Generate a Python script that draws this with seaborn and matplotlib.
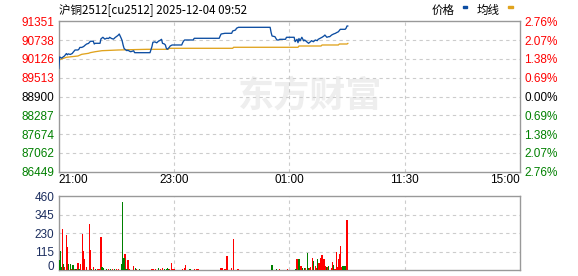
import numpy as np
import pandas as pd
import matplotlib
matplotlib.use("Agg")
import matplotlib.pyplot as plt
import seaborn as sns

sns.set_theme(style="white")
plt.rcParams["font.family"] = ["Noto Sans CJK SC", "DejaVu Sans"]

# ---------------- data ----------------
title = "沪铜2512[cu2512] 2025-12-04 09:52"
base_price = 88900
price_ticks = [86449, 87061.75, 87674.5, 88287.25, 88900, 89512.75, 90125.5, 90738.25, 91351]
price_labels = ["86449", "87062", "87674", "88287", "88900", "89513", "90126", "90738", "91351"]
pct_labels = ["2.76%", "2.07%", "1.38%", "0.69%", "0.00%", "0.69%", "1.38%", "2.07%", "2.76%"]
time_ticks = [0, 120, 240, 360, 480]
time_labels = ["21:00", "23:00", "01:00", "11:30", "15:00"]
vol_ticks = [0, 115, 230, 345, 460]

price_idx = [0, 1, 3, 4, 6, 8, 9, 10, 12, 14, 15, 17, 20, 21, 22, 24, 26, 27, 29, 31, 33, 36, 37, 38,
             43, 44, 46, 48, 50, 52, 53, 55, 57, 59, 60, 62, 63, 65, 66, 67, 68, 69, 71, 72, 74, 75,
             78, 79, 95, 97, 98, 100, 102, 104, 105, 107, 108, 110, 111, 112, 113, 115, 116, 118,
             128, 129, 130, 131, 140, 141, 167, 168, 169, 173, 180, 181, 184, 185, 187, 220, 221,
             222, 225, 227, 229, 230, 236, 237, 245, 246, 248, 249, 250, 251, 253, 255, 256, 258,
             260, 262, 263, 265, 267, 269, 270, 272, 274, 276, 277, 279, 281, 282, 284, 286, 288,
             289, 291, 293, 298, 299, 300, 301]
price_val = [89800, 90190, 90150, 90175, 90220, 90300, 90260, 90290, 90270, 90300, 90340, 90416,
             90416, 90440, 90500, 90500, 90530, 90560, 90610, 90630, 90700, 90700, 90611, 90634,
             90634, 90780, 90830, 90770, 90800, 90790, 90830, 90790, 90770, 90830, 90850, 90900,
             90937, 90800, 90720, 90580, 90470, 90438, 90393, 90410, 90370, 90360, 90390, 90328,
             90328, 90523, 90667, 90680, 90650, 90709, 90720, 90764, 90634, 90611, 90579, 90471,
             90438, 90500, 90546, 90579, 90579, 90654, 90709, 90742, 90742, 90797, 90797, 90872,
             90937, 90960, 90960, 91035, 91067, 91123, 91155, 91155, 90990, 90872, 90850, 90742,
             90742, 90764, 90764, 90830, 90830, 90686, 90764, 90654, 90790, 90710, 90830, 90710,
             90742, 90686, 90634, 90686, 90720, 90686, 90742, 90720, 90764, 90797, 90830, 90872,
             90904, 90830, 90850, 90850, 90904, 90937, 90960, 90980, 91010, 91090, 91090, 91123,
             91198, 91198]

avg_idx = [0, 3, 8, 20, 24, 31, 33, 38, 45, 62, 92, 114, 115, 181, 182, 249, 250, 273, 274, 291, 292, 300, 301]
avg_val = [90090, 90122, 90178, 90220, 90275, 90308, 90330, 90360, 90393, 90416, 90438, 90438, 90471,
           90471, 90504, 90504, 90546, 90546, 90579, 90579, 90611, 90611, 90634]

vol_idx = [0, 1, 2, 3, 4, 5, 6, 8, 9, 10, 12, 13, 15, 17, 18, 20, 21, 23, 25, 26, 27, 29, 32, 33, 34,
           36, 38, 40, 42, 44, 45, 46, 47, 50, 52, 54, 56, 58, 60, 62, 65, 66, 67, 68, 69, 70, 71, 72,
           74, 78, 80, 81, 84, 97, 98, 101, 104, 106, 108, 110, 112, 113, 114, 115, 117, 118, 120,
           129, 131, 132, 136, 137, 141, 143, 145, 169, 170, 173, 175, 180, 182, 186, 187, 222, 227,
           230, 238, 247, 248, 249, 250, 252, 253, 254, 256, 257, 259, 260, 261, 262, 264, 265, 267,
           268, 269, 270, 271, 272, 273, 274, 276, 277, 279, 280, 281, 284, 285, 286, 287, 288, 289,
           290, 291, 292, 293, 294, 295, 296, 298, 299, 300]
vol_val = [319, 64, 120, 23, 257, 39, 23, 220, 145, 39, 39, 8, 33, 8, 6, 44, 6, 39, 226, 120, 70, 21,
           288, 126, 8, 21, 8, 8, 8, 207, 21, 12, 8, 8, 8, 8, 8, 8, 8, 8, 39, 425, 58, 79, 100, 8, 8,
           64, 8, 27, 15, 10, 8, 8, 8, 8, 12, 8, 15, 8, 10, 12, 8, 8, 46, 8, 8, 8, 17, 33, 8, 8, 8, 8,
           8, 12, 17, 8, 89, 17, 197, 8, 8, 33, 8, 8, 8, 8, 70, 39, 70, 27, 21, 12, 15, 12, 108, 15,
           12, 21, 77, 58, 27, 15, 70, 44, 27, 46, 77, 95, 70, 27, 21, 21, 27, 12, 52, 35, 8, 8, 114,
           21, 70, 101, 151, 21, 27, 27, 27, 8, 313]
vol_dir = ["r", "g", "g", "g", "r", "g", "r", "r", "r", "g", "g", "r", "g", "r", "g", "r", "g", "r",
           "r", "r", "r", "r", "r", "r", "g", "r", "g", "r", "r", "r", "g", "g", "r", "g", "r", "g",
           "r", "g", "r", "r", "g", "g", "g", "g", "r", "g", "g", "r", "r", "r", "g", "r", "g", "r",
           "r", "r", "g", "r", "r", "g", "g", "g", "g", "r", "r", "r", "r", "r", "r", "r", "g", "g",
           "r", "r", "r", "r", "r", "r", "r", "r", "r", "r", "r", "g", "g", "r", "r", "g", "r", "r",
           "g", "r", "r", "g", "g", "r", "g", "g", "r", "r", "r", "g", "r", "r", "g", "r", "r", "r",
           "r", "r", "r", "r", "g", "r", "g", "r", "r", "g", "r", "r", "r", "r", "r", "r", "r", "r",
           "g", "g", "g", "r", "r"]

# ---------------- styling ----------------
RED = "#ff0000"
GREEN = "#008000"
BLUE = "#0c4da2"
GOLD = "#e0a31e"
GRID = "#cccccc"
SPINE = "#999999"
NUMFONT = "Liberation Sans"
FS = 8.5

W, H = 578, 276
fig = plt.figure(figsize=(W / 100, H / 100), dpi=100)
fig.patch.set_facecolor("white")
L, R = 58.7, 520.0
ax = fig.add_axes([L / W, 1 - 171.7 / H, (R - L) / W, (171.7 - 21.3) / H])
axv = fig.add_axes([L / W, 1 - 270.3 / H, (R - L) / W, (270.3 - 196.3) / H])

for a in (ax, axv):
    a.set_facecolor("white")
    for s in a.spines.values():
        s.set_color(SPINE)
        s.set_linewidth(1.0)
    a.set_xlim(0, 480)
    a.tick_params(length=0)

# watermark
ax.text(0.545, 0.5, "东方财富", transform=ax.transAxes, fontsize=26, fontweight="bold",
        color="#eeeeee", ha="center", va="center", zorder=0, fontstyle="italic")

# grid
dash = (0, (3, 3))
for t in price_ticks[1:-1]:
    ax.axhline(t, color=GRID, lw=0.8, ls=dash, zorder=1)
for t in time_ticks[1:-1]:
    ax.axvline(t, color=GRID, lw=0.8, ls=dash, zorder=1)
    axv.axvline(t, color=GRID, lw=0.8, ls=dash, zorder=1)
for t in vol_ticks[1:-1]:
    axv.axhline(t, color=GRID, lw=0.8, ls=dash, zorder=1)

# lines
df_p = pd.DataFrame({"i": price_idx, "v": price_val})
df_a = pd.DataFrame({"i": avg_idx, "v": avg_val})
sns.lineplot(data=df_a, x="i", y="v", ax=ax, color=GOLD, lw=0.95, zorder=3)
sns.lineplot(data=df_p, x="i", y="v", ax=ax, color=BLUE, lw=0.95, zorder=4)
ax.set_ylim(price_ticks[0], price_ticks[-1])
ax.set_xlabel("")
ax.set_ylabel("")

# y labels left
ax.set_yticks(price_ticks)
ax.set_yticklabels(price_labels, fontfamily=NUMFONT, fontsize=FS)
for lab, t in zip(ax.get_yticklabels(), price_ticks):
    lab.set_color(RED if t > base_price else (GREEN if t < base_price else "black"))
ax.tick_params(axis="y", pad=3)

# right percent labels
ax2 = ax.twinx()
ax2.set_ylim(price_ticks[0], price_ticks[-1])
ax2.set_yticks(price_ticks)
ax2.set_yticklabels(pct_labels, fontfamily=NUMFONT, fontsize=FS)
for lab, t in zip(ax2.get_yticklabels(), price_ticks):
    lab.set_color(RED if t > base_price else (GREEN if t < base_price else "black"))
ax2.tick_params(length=0, pad=3)
for s in ax2.spines.values():
    s.set_visible(False)

# x labels
ax.set_xticks(time_ticks)
ax.set_xticklabels(time_labels, fontfamily=NUMFONT, fontsize=FS, color="black")
ax.tick_params(axis="x", pad=2)
xl = ax.get_xticklabels()
xl[0].set_ha("left")
xl[-1].set_ha("right")

# volume
df_v = pd.DataFrame({"i": vol_idx, "v": vol_val, "d": vol_dir})
sns.barplot(data=df_v, x="i", y="v", hue="d", palette={"r": RED, "g": GREEN}, ax=axv,
            native_scale=True, dodge=False, width=1.3, errorbar=None, legend=False,
            linewidth=0, saturation=1, zorder=3)
for p in axv.patches:
    p.set_antialiased(False)
axv.set_xlim(0, 480)
axv.set_ylim(0, 460)
axv.set_xticks([])
axv.set_xlabel("")
axv.set_ylabel("")
axv.set_yticks(vol_ticks)
axv.set_yticklabels([str(v) for v in vol_ticks], fontfamily=NUMFONT, fontsize=FS, color="#1b2d5e")
axv.tick_params(axis="y", pad=3)
axv.get_yticklabels()[0].set_va("baseline")

# title & legend
fig.text(L / W, 1 - 10 / H, title, fontsize=8.3, va="center", ha="left", color="black")
fig.text(431.5 / W, 1 - 10 / H, "价格", fontsize=8.3, va="center", ha="left", color="black")
fig.text(476.5 / W, 1 - 10 / H, "均线", fontsize=8.3, va="center", ha="left", color="black")
fig.patches.append(plt.Rectangle((462.7 / W, 1 - 8 / H), 4 / W, 2.2 / H, transform=fig.transFigure,
                                 color=BLUE, figure=fig))
fig.patches.append(plt.Rectangle((508.3 / W, 1 - 8 / H), 4.4 / W, 2.2 / H, transform=fig.transFigure,
                                 color=GOLD, figure=fig))

fig.savefig("out.png", dpi=100)
